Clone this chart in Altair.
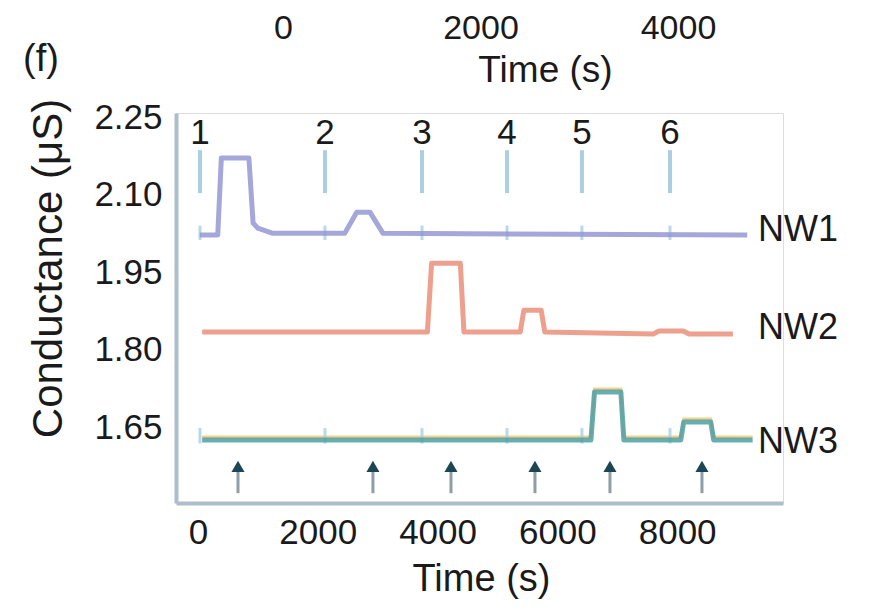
import altair as alt
import pandas as pd

# ---- data ----
series_names = ["NW1", "NW2", "NW3"]
series_colors = ["#9597d2", "#e98f79", "#4f9fa3"]

nw1_t = [30, 330, 390, 850, 920, 1000, 1250, 2450, 2650, 2870, 3090, 9170]
nw1_v = [2.022, 2.022, 2.171, 2.171, 2.045, 2.035, 2.025, 2.025, 2.066, 2.066, 2.025, 2.022]

nw2_t = [70, 3830, 3900, 4380, 4440, 5380, 5440, 5730, 5790, 7600, 7700, 8100, 8200, 8930]
nw2_v = [1.834, 1.834, 1.967, 1.967, 1.834, 1.834, 1.876, 1.876, 1.834, 1.830, 1.836, 1.836, 1.830, 1.830]

nw3_t = [70, 6560, 6620, 7060, 7110, 8060, 8110, 8560, 8610, 9260]
nw3_v = [1.625, 1.625, 1.718, 1.718, 1.625, 1.625, 1.660, 1.660, 1.625, 1.625]

inj_t = [33, 2120, 3740, 5160, 6410, 7880]
inj_labels = ["1", "2", "3", "4", "5", "6"]
arrow_t = [668, 2921, 4224, 5626, 6878, 8414]

label_t = [9350, 9350, 9350]
label_v = [2.031, 1.842, 1.621]

x_ticks = [0, 2000, 4000, 6000, 8000]
y_ticks = [1.65, 1.80, 1.95, 2.10, 2.25]
top_ticks = [0, 2000, 4000]

# ---- tables ----
rows = []
for name, ts, vs in [("NW1", nw1_t, nw1_v), ("NW2", nw2_t, nw2_v), ("NW3", nw3_t, nw3_v)]:
    for i, (t, v) in enumerate(zip(ts, vs)):
        rows.append({"series": name, "t": t, "v": v, "i": i})
traces = pd.DataFrame(rows)
inj = pd.DataFrame({"t": inj_t, "lab": inj_labels})
arrows = pd.DataFrame({"t": arrow_t})
labels = pd.DataFrame({"t": label_t, "v": label_v, "name": series_names})
top_df = pd.DataFrame({"t": top_ticks})

FONT = "Liberation Sans, Arial, sans-serif"
XS = alt.Scale(domain=[-367, 9767], nice=False, zero=False)
YS = alt.Scale(domain=[1.503, 2.258], nice=False, zero=False)
AX = "#aebdca"
INK = "#1a1a1a"

x_axis = alt.Axis(values=x_ticks, format="d", labelFontSize=35, labelFont=FONT, labelColor=INK,
                  labelPadding=12, labelFlush=False, domainColor=AX, domainWidth=4, ticks=False, grid=False,
                  title="Time (s)", titleFont=FONT, titleFontSize=38, titleFontWeight="normal",
                  titleColor=INK, titleX=305, titleY=76, titleBaseline="middle", titleAlign="center")
y_axis = alt.Axis(values=y_ticks, format=".2f", labelFontSize=35, labelFont=FONT, labelColor=INK,
                  labelPadding=14, labelFlush=False, domainColor=AX, domainWidth=4, ticks=False, grid=False,
                  title="Conductance (μS)", titleFont=FONT, titleFontSize=42, titleFontWeight="normal",
                  titleColor=INK, titleX=-128, titleY=155, titleAngle=270,
                  titleBaseline="middle", titleAlign="center")


def X(field="t:Q"):
    return alt.X(field, scale=XS, axis=x_axis)


def Y(field="v:Q"):
    return alt.Y(field, scale=YS, axis=y_axis)


def YD(value):
    return alt.YDatum(value, scale=YS, axis=y_axis, type="quantitative")


color = alt.Color("series:N", scale=alt.Scale(domain=series_names, range=series_colors), legend=None)

base_line = alt.Chart(traces)

nw3_under = base_line.transform_filter(alt.datum.series == "NW3").mark_line(
    color="#f2d28a", strokeWidth=3, yOffset=-3).encode(x=X(), y=Y(), order="i:Q")

lines = base_line.mark_line(strokeWidth=5, opacity=0.85, strokeJoin="round").encode(
    x=X(), y=Y(), color=color, order="i:Q")

inj_rules = alt.Chart(inj).mark_rule(color="#a9cfe0", strokeWidth=4).encode(
    x=X(), y=YD(2.186), y2=alt.datum(2.103))
inj_ticks1 = alt.Chart(inj).mark_rule(color="#a9cfe0", strokeWidth=3, opacity=0.8).encode(
    x=X(), y=YD(2.040), y2=alt.datum(2.012))
inj_ticks3 = alt.Chart(inj).mark_rule(color="#a9cfe0", strokeWidth=3, opacity=0.8).encode(
    x=X(), y=YD(1.648), y2=alt.datum(1.618))
inj_text = alt.Chart(inj).mark_text(font=FONT, fontSize=35, color=INK, baseline="middle").encode(
    x=X(), y=YD(2.219), text="lab:N")

arrow_stem = alt.Chart(arrows).mark_rule(color="#8e9ea6", strokeWidth=3).encode(
    x=X(), y=YD(1.571), y2=alt.datum(1.522))
arrow_head = alt.Chart(arrows).mark_point(shape="triangle-up", filled=True, size=170,
                                          color="#1d4655", opacity=1).encode(
    x=X(), y=YD(1.574))

name_text = alt.Chart(labels).mark_text(font=FONT, fontSize=36, color=INK,
                                        align="left", baseline="middle").encode(
    x=X(), y=Y(), text="name:N")

main = alt.layer(nw3_under, inj_rules, inj_ticks1, inj_ticks3, lines, inj_text,
                 arrow_stem, arrow_head, name_text)

top_axis = alt.Axis(orient="top", values=top_ticks, format="d", labelFontSize=34, labelFont=FONT,
                    labelColor=INK, labelPadding=68, labelFlush=False, domain=False, ticks=False,
                    grid=False, title="Time (s)", titleFont=FONT, titleFontSize=37,
                    titleFontWeight="normal", titleColor=INK, titleX=369, titleY=-43,
                    titleBaseline="middle", titleAlign="center")
top = alt.Chart(top_df).mark_point(opacity=0).encode(
    x=alt.X("t:Q", scale=alt.Scale(domain=[-1083, 5063], nice=False, zero=False), axis=top_axis),
    y=alt.value(0))

chart = alt.layer(main, top).resolve_scale(x="independent").resolve_axis(x="independent").properties(
    width=607, height=390,
    title=alt.TitleParams("(f)", anchor="start", frame="group", font=FONT, fontSize=38,
                          fontWeight="normal", color=INK, dx=-153, dy=72),
    autosize=alt.AutoSizeParams(type="none"),
    padding={"left": 168, "top": 105, "right": 100, "bottom": 98},
).configure_view(strokeWidth=0).configure(background="white")

chart.save("out.html", embed_options={"renderer": "svg", "actions": False})
